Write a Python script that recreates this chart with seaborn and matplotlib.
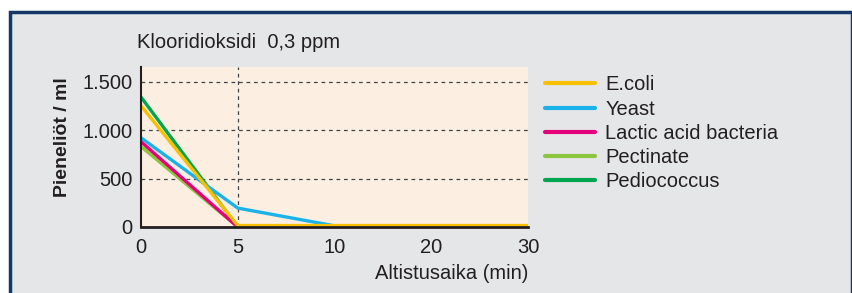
import matplotlib
matplotlib.use("Agg")
import matplotlib.pyplot as plt
from matplotlib.patches import Rectangle
import pandas as pd
import seaborn as sns

times = ["0", "5", "10", "20", "30"]
series = ["E.coli", "Yeast", "Lactic acid bacteria", "Pectinate", "Pediococcus"]
ecoli = [1250, 15, 15, 15, 15]
yeast = [920, 195, 12, 12, 12]
lactic = [880, 0, 0, 0, 0]
pectinate = [830, 0, 0, 0, 0]
pediococcus = [1340, 0, 0, 0, 0]
colors = ["#f8c100", "#1ab2e8", "#e6007e", "#8cc63f", "#00a650"]

values = [ecoli, yeast, lactic, pectinate, pediococcus]
rows = []
for name, vals in zip(series, values):
    for t, v in zip(times, vals):
        rows.append({"time": t, "count": v, "series": name})
df = pd.DataFrame(rows)

sns.set_style("white")
plt.rcParams["font.family"] = ["Liberation Sans", "DejaVu Sans"]

fs = 14.5
ink = "#231f20"

fig = plt.figure(figsize=(8.53, 2.93), dpi=100)
fig.patch.set_facecolor("white")
# grey panel with navy frame
fig.patches.append(Rectangle((10 / 853, -0.05), 842 / 853, 1.05 - 11.5 / 293,
                             transform=fig.transFigure, facecolor="#e5e6e8",
                             edgecolor="#143767", linewidth=2.5, zorder=-5))

ax = fig.add_axes([141 / 853, 1 - 227 / 293, (528 - 141) / 853, (227 - 67) / 293])
ax.set_facecolor("#fcefe2")

# draw in reverse so that E.coli sits on top
palette = dict(zip(series, colors))
sns.lineplot(data=df, x="time", y="count", hue="series", hue_order=series[::-1],
             palette=palette, linewidth=2.4, sort=False, ax=ax, legend=True)

ax.set_xlim(0, len(times) - 1)
ax.set_ylim(0, 1650)
ax.set_yticks([0, 500, 1000, 1500])
ax.set_yticklabels(["0", "500", "1.000", "1.500"])
ax.tick_params(axis="both", length=0, labelsize=fs, colors=ink, pad=6)
ax.tick_params(axis="x", pad=8)

for y in [500, 1000, 1500]:
    ax.axhline(y, color="#444444", linestyle=(0, (3, 3)), linewidth=0.9, zorder=0.5)
ax.axvline(1, color="#444444", linestyle=(0, (3, 3)), linewidth=0.9, zorder=0.5)

for side in ["top", "right"]:
    ax.spines[side].set_visible(False)
ax.spines["left"].set_color(ink)
ax.spines["left"].set_linewidth(1.5)
ax.spines["bottom"].set_color(ink)
ax.spines["bottom"].set_linewidth(2)

ax.set_xlabel("Altistusaika (min)", fontsize=fs, color=ink, loc="right", labelpad=5)
ax.set_ylabel("Pieneliöt / ml", fontsize=14, fontweight="bold", color=ink)
ax.yaxis.set_label_coords(-0.204, 0.5625)
ax.yaxis.label.set_va("center")

fig.text(137 / 853, 1 - 42 / 293, "Klooridioksidi  0,3 ppm", fontsize=fs,
         color=ink, va="center", ha="left")

handles, labels = ax.get_legend_handles_labels()
order = [labels.index(s) for s in series]
leg = ax.legend([handles[i] for i in order], series, loc="upper left",
                bbox_to_anchor=(1.044, 0.948), frameon=False, fontsize=fs,
                handlelength=2.5, handletextpad=0.5, labelspacing=0.26,
                borderaxespad=0, borderpad=0)
for line in leg.get_lines():
    line.set_linewidth(3)
for t in leg.get_texts():
    t.set_color(ink)

fig.savefig("out.png", dpi=100, facecolor=fig.get_facecolor())
